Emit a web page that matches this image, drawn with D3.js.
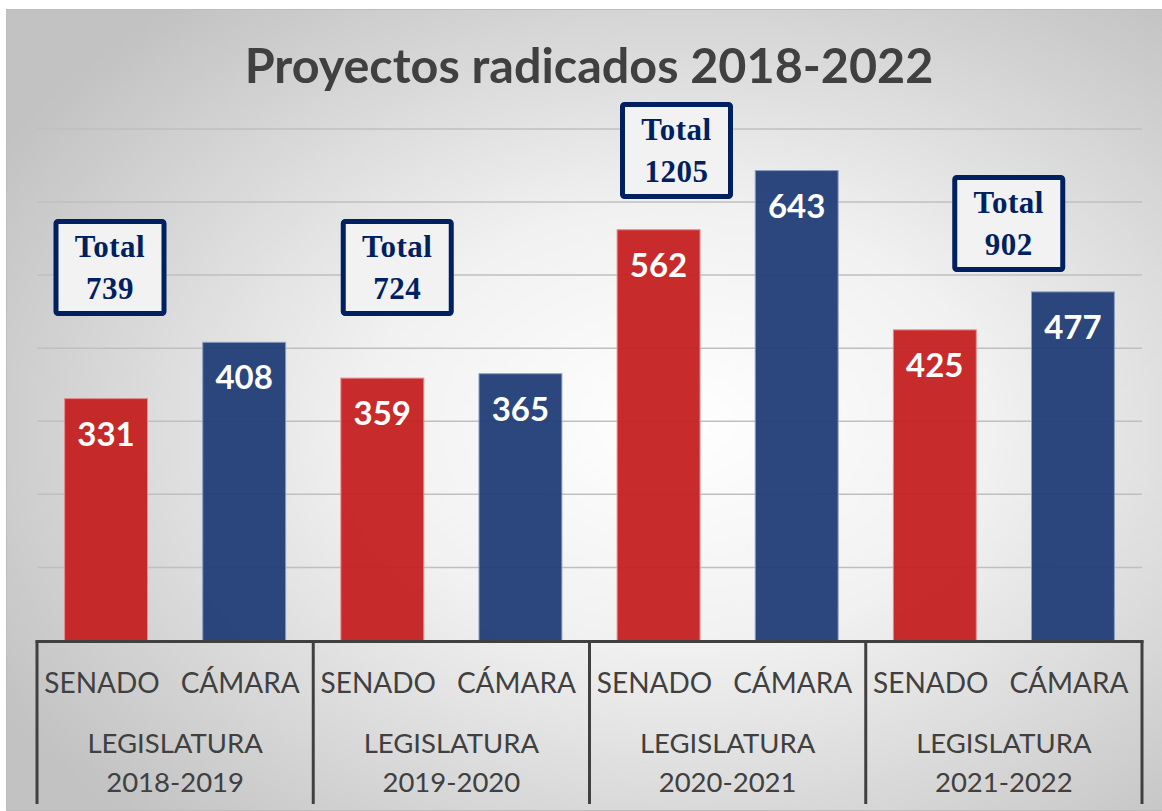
<!DOCTYPE html>
<html>
<head>
<meta charset="utf-8">
<script src="https://cdn.jsdelivr.net/npm/d3@7"></script>
<style>
  body { margin: 0; background: #fff; }
  svg { display: block; }
</style>
</head>
<body>
<div id="chart"></div>
<script>
// data
var legislaturas = ["2018-2019", "2019-2020", "2020-2021", "2021-2022"];
var camaras = ["SENADO", "CÁMARA"];
var senado = [331, 359, 562, 425];
var camara = [408, 365, 643, 477];
var yTicks = [100, 200, 300, 400, 500, 600, 700];

// layout for the "Total" annotation boxes (offset from group start, top y)
var boxDx = [73, 84, 87, 143];
var boxTop = [219, 219, 102, 175];

var W = 1162, H = 811;
var plot = {left: 37, right: 1142, top: 128.9, bottom: 640.5};

var svg = d3.select("#chart").append("svg")
    .attr("width", W)
    .attr("height", H);

var defs = svg.append("defs");
var grad = defs.append("radialGradient")
    .attr("id", "bg")
    .attr("cx", "58%").attr("cy", "52%").attr("r", "68%");
grad.append("stop").attr("offset", "0%").attr("stop-color", "#ffffff");
grad.append("stop").attr("offset", "40%").attr("stop-color", "#f1f1f1");
grad.append("stop").attr("offset", "100%").attr("stop-color", "#c2c2c2");

svg.append("rect")
    .attr("x", 6.5).attr("y", 9.5)
    .attr("width", W - 6).attr("height", 801)
    .attr("fill", "url(#bg)")
    .attr("stroke", "#bdbdbd");

var rows = legislaturas.map(function(l, i) {
    return {leg: l, values: [senado[i], camara[i]]};
});

var x0 = d3.scaleBand()
    .domain(legislaturas)
    .range([plot.left, plot.right]);

var x1 = d3.scaleBand()
    .domain(camaras)
    .range([0, x0.bandwidth()])
    .paddingInner(0.4)
    .paddingOuter(0.2);

var y = d3.scaleLinear()
    .domain([0, 700])
    .range([plot.bottom, plot.top]);

// gridlines
svg.append("g")
    .selectAll("line")
    .data(yTicks)
    .enter().append("line")
    .attr("x1", plot.left).attr("x2", plot.right)
    .attr("y1", function(d) { return y(d); })
    .attr("y2", function(d) { return y(d); })
    .attr("stroke", "#bfbfbf")
    .attr("stroke-width", 1.5);

// title
svg.append("text")
    .attr("x", 589).attr("y", 83)
    .attr("text-anchor", "middle")
    .attr("font-family", "Lato, 'Open Sans', sans-serif")
    .attr("font-weight", "bold")
    .attr("font-size", "48.5px")
    .attr("fill", "#404040")
    .text("Proyectos radicados 2018-2022");

var colors = {"SENADO": "#c52020", "CÁMARA": "#203d76"};
var edges = {"SENADO": "#e48a8a", "CÁMARA": "#8a9cc0"};

var groups = svg.selectAll(".grp")
    .data(rows)
    .enter().append("g")
    .attr("class", "grp")
    .attr("transform", function(d) { return "translate(" + x0(d.leg) + ",0)"; });

var bars = groups.selectAll(".bar")
    .data(function(d) {
        return d.values.map(function(v, i) { return {key: camaras[i], value: v}; });
    })
    .enter();

bars.append("rect")
    .attr("class", "bar")
    .attr("x", function(d) { return x1(d.key); })
    .attr("width", x1.bandwidth())
    .attr("y", function(d) { return y(d.value); })
    .attr("height", function(d) { return plot.bottom - y(d.value); })
    .attr("fill", function(d) { return colors[d.key]; })
    .attr("fill-opacity", 0.95)
    .attr("stroke", function(d) { return edges[d.key]; })
    .attr("stroke-width", 1);

bars.append("text")
    .attr("x", function(d) { return x1(d.key) + x1.bandwidth() / 2; })
    .attr("y", function(d) { return y(d.value) + 47; })
    .attr("text-anchor", "middle")
    .attr("font-family", "Lato, 'Open Sans', sans-serif")
    .attr("font-weight", "bold")
    .attr("font-size", "33px")
    .attr("fill", "#ffffff")
    .text(function(d) { return d.value; });

// category axis (two levels)
var axis = svg.append("g");
axis.append("line")
    .attr("x1", plot.left - 1.5).attr("x2", plot.right + 1.5)
    .attr("y1", plot.bottom + 1).attr("y2", plot.bottom + 1)
    .attr("stroke", "#404040").attr("stroke-width", 3);

var bounds = legislaturas.map(function(l) { return x0(l); }).concat([plot.right]);
axis.selectAll(".tick")
    .data(bounds)
    .enter().append("line")
    .attr("x1", function(d) { return d; })
    .attr("x2", function(d) { return d; })
    .attr("y1", plot.bottom).attr("y2", 804)
    .attr("stroke", "#404040").attr("stroke-width", 3);

groups.selectAll(".cat")
    .data(camaras)
    .enter().append("text")
    .attr("x", function(d) { return x1(d) + x1.bandwidth() / 2 - 4; })
    .attr("y", 693)
    .attr("text-anchor", "middle")
    .attr("font-family", "Lato, 'Open Sans', sans-serif")
    .attr("font-size", "28px")
    .attr("fill", "#404040")
    .text(function(d) { return d; });

groups.append("text")
    .attr("x", x0.bandwidth() / 2)
    .attr("y", 753)
    .attr("text-anchor", "middle")
    .attr("font-family", "Lato, 'Open Sans', sans-serif")
    .attr("font-size", "27.5px")
    .attr("fill", "#404040")
    .text("LEGISLATURA");

groups.append("text")
    .attr("x", x0.bandwidth() / 2)
    .attr("y", 792)
    .attr("text-anchor", "middle")
    .attr("font-family", "Lato, 'Open Sans', sans-serif")
    .attr("font-size", "27.5px")
    .attr("fill", "#404040")
    .text(function(d) { return d.leg; });

// total boxes
var boxW = 113, boxH = 97;
var boxes = groups.append("g")
    .attr("transform", function(d, i) {
        return "translate(" + (boxDx[i] - boxW / 2) + "," + boxTop[i] + ")";
    });

boxes.append("rect")
    .attr("x", 2.5).attr("y", 2.5)
    .attr("width", boxW - 5).attr("height", boxH - 5)
    .attr("rx", 2)
    .attr("fill", "#f2f2f2")
    .attr("stroke", "#002060")
    .attr("stroke-width", 5);

boxes.append("text")
    .attr("x", boxW / 2).attr("y", 38)
    .attr("text-anchor", "middle")
    .attr("font-family", "'Liberation Serif', 'Times New Roman', serif")
    .attr("font-weight", "bold")
    .attr("font-size", "31px")
    .attr("letter-spacing", "0.5px")
    .attr("fill", "#002060")
    .text("Total");

boxes.append("text")
    .attr("x", boxW / 2).attr("y", 80)
    .attr("text-anchor", "middle")
    .attr("font-family", "'Liberation Serif', 'Times New Roman', serif")
    .attr("font-weight", "bold")
    .attr("font-size", "31px")
    .attr("letter-spacing", "0.5px")
    .attr("fill", "#002060")
    .text(function(d) { return d3.sum(d.values); });
</script>
</body>
</html>
